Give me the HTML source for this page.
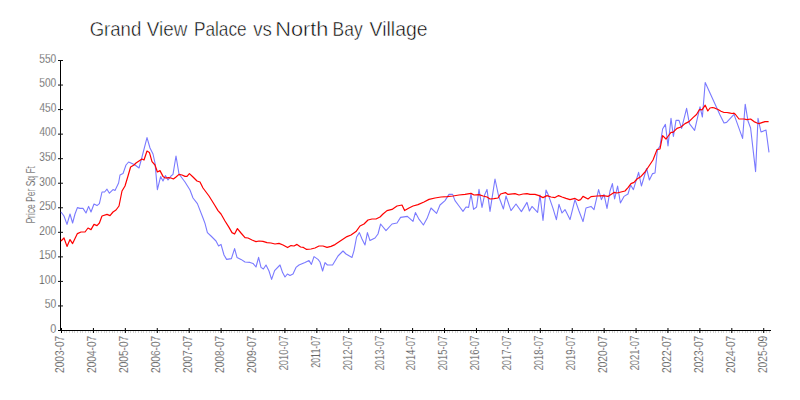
<!DOCTYPE html><html><head><meta charset="utf-8"><style>html,body{margin:0;padding:0;background:#fff;}svg{display:block;}text{font-family:"Liberation Sans", sans-serif;}</style></head><body>
<svg width="800" height="400" viewBox="0 0 800 400">
<rect width="800" height="400" fill="#fff"/>
<g font-size="20.6" fill="#000" stroke="#fff" stroke-width="0.5">
<text x="89.67" y="35.8" textLength="51.62" lengthAdjust="spacingAndGlyphs">Grand</text>
<text x="146.81" y="35.8" textLength="40.56" lengthAdjust="spacingAndGlyphs">View</text>
<text x="193.88" y="35.8" textLength="52.79" lengthAdjust="spacingAndGlyphs">Palace</text>
<text x="253.13" y="35.8" textLength="18.65" lengthAdjust="spacingAndGlyphs">vs</text>
<text x="275.22" y="35.8" textLength="53.21" lengthAdjust="spacingAndGlyphs">North</text>
<text x="332.57" y="35.8" textLength="30.07" lengthAdjust="spacingAndGlyphs">Bay</text>
<text x="369.60" y="35.8" textLength="57.95" lengthAdjust="spacingAndGlyphs">Village</text>
</g>
<g stroke="#d4d4d4" stroke-width="1" shape-rendering="crispEdges">
<line x1="61.5" y1="331" x2="61.5" y2="333"/>
<line x1="64.5" y1="331" x2="64.5" y2="333"/>
<line x1="66.5" y1="331" x2="66.5" y2="333"/>
<line x1="69.5" y1="331" x2="69.5" y2="333"/>
<line x1="72.5" y1="331" x2="72.5" y2="333"/>
<line x1="74.5" y1="331" x2="74.5" y2="333"/>
<line x1="77.5" y1="331" x2="77.5" y2="333"/>
<line x1="80.5" y1="331" x2="80.5" y2="333"/>
<line x1="82.5" y1="331" x2="82.5" y2="333"/>
<line x1="85.5" y1="331" x2="85.5" y2="333"/>
<line x1="88.5" y1="331" x2="88.5" y2="333"/>
<line x1="90.5" y1="331" x2="90.5" y2="333"/>
<line x1="93.5" y1="331" x2="93.5" y2="333"/>
<line x1="96.5" y1="331" x2="96.5" y2="333"/>
<line x1="98.5" y1="331" x2="98.5" y2="333"/>
<line x1="101.5" y1="331" x2="101.5" y2="333"/>
<line x1="104.5" y1="331" x2="104.5" y2="333"/>
<line x1="106.5" y1="331" x2="106.5" y2="333"/>
<line x1="109.5" y1="331" x2="109.5" y2="333"/>
<line x1="112.5" y1="331" x2="112.5" y2="333"/>
<line x1="114.5" y1="331" x2="114.5" y2="333"/>
<line x1="117.5" y1="331" x2="117.5" y2="333"/>
<line x1="120.5" y1="331" x2="120.5" y2="333"/>
<line x1="122.5" y1="331" x2="122.5" y2="333"/>
<line x1="125.5" y1="331" x2="125.5" y2="333"/>
<line x1="128.5" y1="331" x2="128.5" y2="333"/>
<line x1="130.5" y1="331" x2="130.5" y2="333"/>
<line x1="133.5" y1="331" x2="133.5" y2="333"/>
<line x1="135.5" y1="331" x2="135.5" y2="333"/>
<line x1="138.5" y1="331" x2="138.5" y2="333"/>
<line x1="141.5" y1="331" x2="141.5" y2="333"/>
<line x1="143.5" y1="331" x2="143.5" y2="333"/>
<line x1="146.5" y1="331" x2="146.5" y2="333"/>
<line x1="149.5" y1="331" x2="149.5" y2="333"/>
<line x1="151.5" y1="331" x2="151.5" y2="333"/>
<line x1="154.5" y1="331" x2="154.5" y2="333"/>
<line x1="157.5" y1="331" x2="157.5" y2="333"/>
<line x1="159.5" y1="331" x2="159.5" y2="333"/>
<line x1="162.5" y1="331" x2="162.5" y2="333"/>
<line x1="165.5" y1="331" x2="165.5" y2="333"/>
<line x1="167.5" y1="331" x2="167.5" y2="333"/>
<line x1="170.5" y1="331" x2="170.5" y2="333"/>
<line x1="173.5" y1="331" x2="173.5" y2="333"/>
<line x1="175.5" y1="331" x2="175.5" y2="333"/>
<line x1="178.5" y1="331" x2="178.5" y2="333"/>
<line x1="181.5" y1="331" x2="181.5" y2="333"/>
<line x1="183.5" y1="331" x2="183.5" y2="333"/>
<line x1="186.5" y1="331" x2="186.5" y2="333"/>
<line x1="189.5" y1="331" x2="189.5" y2="333"/>
<line x1="191.5" y1="331" x2="191.5" y2="333"/>
<line x1="194.5" y1="331" x2="194.5" y2="333"/>
<line x1="197.5" y1="331" x2="197.5" y2="333"/>
<line x1="199.5" y1="331" x2="199.5" y2="333"/>
<line x1="202.5" y1="331" x2="202.5" y2="333"/>
<line x1="205.5" y1="331" x2="205.5" y2="333"/>
<line x1="207.5" y1="331" x2="207.5" y2="333"/>
<line x1="210.5" y1="331" x2="210.5" y2="333"/>
<line x1="213.5" y1="331" x2="213.5" y2="333"/>
<line x1="215.5" y1="331" x2="215.5" y2="333"/>
<line x1="218.5" y1="331" x2="218.5" y2="333"/>
<line x1="221.5" y1="331" x2="221.5" y2="333"/>
<line x1="223.5" y1="331" x2="223.5" y2="333"/>
<line x1="226.5" y1="331" x2="226.5" y2="333"/>
<line x1="229.5" y1="331" x2="229.5" y2="333"/>
<line x1="231.5" y1="331" x2="231.5" y2="333"/>
<line x1="234.5" y1="331" x2="234.5" y2="333"/>
<line x1="237.5" y1="331" x2="237.5" y2="333"/>
<line x1="239.5" y1="331" x2="239.5" y2="333"/>
<line x1="242.5" y1="331" x2="242.5" y2="333"/>
<line x1="245.5" y1="331" x2="245.5" y2="333"/>
<line x1="247.5" y1="331" x2="247.5" y2="333"/>
<line x1="250.5" y1="331" x2="250.5" y2="333"/>
<line x1="253.5" y1="331" x2="253.5" y2="333"/>
<line x1="255.5" y1="331" x2="255.5" y2="333"/>
<line x1="258.5" y1="331" x2="258.5" y2="333"/>
<line x1="260.5" y1="331" x2="260.5" y2="333"/>
<line x1="263.5" y1="331" x2="263.5" y2="333"/>
<line x1="266.5" y1="331" x2="266.5" y2="333"/>
<line x1="268.5" y1="331" x2="268.5" y2="333"/>
<line x1="271.5" y1="331" x2="271.5" y2="333"/>
<line x1="274.5" y1="331" x2="274.5" y2="333"/>
<line x1="276.5" y1="331" x2="276.5" y2="333"/>
<line x1="279.5" y1="331" x2="279.5" y2="333"/>
<line x1="282.5" y1="331" x2="282.5" y2="333"/>
<line x1="284.5" y1="331" x2="284.5" y2="333"/>
<line x1="287.5" y1="331" x2="287.5" y2="333"/>
<line x1="290.5" y1="331" x2="290.5" y2="333"/>
<line x1="292.5" y1="331" x2="292.5" y2="333"/>
<line x1="295.5" y1="331" x2="295.5" y2="333"/>
<line x1="298.5" y1="331" x2="298.5" y2="333"/>
<line x1="300.5" y1="331" x2="300.5" y2="333"/>
<line x1="303.5" y1="331" x2="303.5" y2="333"/>
<line x1="306.5" y1="331" x2="306.5" y2="333"/>
<line x1="308.5" y1="331" x2="308.5" y2="333"/>
<line x1="311.5" y1="331" x2="311.5" y2="333"/>
<line x1="314.5" y1="331" x2="314.5" y2="333"/>
<line x1="316.5" y1="331" x2="316.5" y2="333"/>
<line x1="319.5" y1="331" x2="319.5" y2="333"/>
<line x1="322.5" y1="331" x2="322.5" y2="333"/>
<line x1="324.5" y1="331" x2="324.5" y2="333"/>
<line x1="327.5" y1="331" x2="327.5" y2="333"/>
<line x1="330.5" y1="331" x2="330.5" y2="333"/>
<line x1="332.5" y1="331" x2="332.5" y2="333"/>
<line x1="335.5" y1="331" x2="335.5" y2="333"/>
<line x1="338.5" y1="331" x2="338.5" y2="333"/>
<line x1="340.5" y1="331" x2="340.5" y2="333"/>
<line x1="343.5" y1="331" x2="343.5" y2="333"/>
<line x1="346.5" y1="331" x2="346.5" y2="333"/>
<line x1="348.5" y1="331" x2="348.5" y2="333"/>
<line x1="351.5" y1="331" x2="351.5" y2="333"/>
<line x1="354.5" y1="331" x2="354.5" y2="333"/>
<line x1="356.5" y1="331" x2="356.5" y2="333"/>
<line x1="359.5" y1="331" x2="359.5" y2="333"/>
<line x1="362.5" y1="331" x2="362.5" y2="333"/>
<line x1="364.5" y1="331" x2="364.5" y2="333"/>
<line x1="367.5" y1="331" x2="367.5" y2="333"/>
<line x1="370.5" y1="331" x2="370.5" y2="333"/>
<line x1="372.5" y1="331" x2="372.5" y2="333"/>
<line x1="375.5" y1="331" x2="375.5" y2="333"/>
<line x1="378.5" y1="331" x2="378.5" y2="333"/>
<line x1="380.5" y1="331" x2="380.5" y2="333"/>
<line x1="383.5" y1="331" x2="383.5" y2="333"/>
<line x1="386.5" y1="331" x2="386.5" y2="333"/>
<line x1="388.5" y1="331" x2="388.5" y2="333"/>
<line x1="391.5" y1="331" x2="391.5" y2="333"/>
<line x1="394.5" y1="331" x2="394.5" y2="333"/>
<line x1="396.5" y1="331" x2="396.5" y2="333"/>
<line x1="399.5" y1="331" x2="399.5" y2="333"/>
<line x1="401.5" y1="331" x2="401.5" y2="333"/>
<line x1="404.5" y1="331" x2="404.5" y2="333"/>
<line x1="407.5" y1="331" x2="407.5" y2="333"/>
<line x1="409.5" y1="331" x2="409.5" y2="333"/>
<line x1="412.5" y1="331" x2="412.5" y2="333"/>
<line x1="415.5" y1="331" x2="415.5" y2="333"/>
<line x1="417.5" y1="331" x2="417.5" y2="333"/>
<line x1="420.5" y1="331" x2="420.5" y2="333"/>
<line x1="423.5" y1="331" x2="423.5" y2="333"/>
<line x1="425.5" y1="331" x2="425.5" y2="333"/>
<line x1="428.5" y1="331" x2="428.5" y2="333"/>
<line x1="431.5" y1="331" x2="431.5" y2="333"/>
<line x1="433.5" y1="331" x2="433.5" y2="333"/>
<line x1="436.5" y1="331" x2="436.5" y2="333"/>
<line x1="439.5" y1="331" x2="439.5" y2="333"/>
<line x1="441.5" y1="331" x2="441.5" y2="333"/>
<line x1="444.5" y1="331" x2="444.5" y2="333"/>
<line x1="447.5" y1="331" x2="447.5" y2="333"/>
<line x1="449.5" y1="331" x2="449.5" y2="333"/>
<line x1="452.5" y1="331" x2="452.5" y2="333"/>
<line x1="455.5" y1="331" x2="455.5" y2="333"/>
<line x1="457.5" y1="331" x2="457.5" y2="333"/>
<line x1="460.5" y1="331" x2="460.5" y2="333"/>
<line x1="463.5" y1="331" x2="463.5" y2="333"/>
<line x1="465.5" y1="331" x2="465.5" y2="333"/>
<line x1="468.5" y1="331" x2="468.5" y2="333"/>
<line x1="471.5" y1="331" x2="471.5" y2="333"/>
<line x1="473.5" y1="331" x2="473.5" y2="333"/>
<line x1="476.5" y1="331" x2="476.5" y2="333"/>
<line x1="479.5" y1="331" x2="479.5" y2="333"/>
<line x1="481.5" y1="331" x2="481.5" y2="333"/>
<line x1="484.5" y1="331" x2="484.5" y2="333"/>
<line x1="487.5" y1="331" x2="487.5" y2="333"/>
<line x1="489.5" y1="331" x2="489.5" y2="333"/>
<line x1="492.5" y1="331" x2="492.5" y2="333"/>
<line x1="495.5" y1="331" x2="495.5" y2="333"/>
<line x1="497.5" y1="331" x2="497.5" y2="333"/>
<line x1="500.5" y1="331" x2="500.5" y2="333"/>
<line x1="503.5" y1="331" x2="503.5" y2="333"/>
<line x1="505.5" y1="331" x2="505.5" y2="333"/>
<line x1="508.5" y1="331" x2="508.5" y2="333"/>
<line x1="511.5" y1="331" x2="511.5" y2="333"/>
<line x1="513.5" y1="331" x2="513.5" y2="333"/>
<line x1="516.5" y1="331" x2="516.5" y2="333"/>
<line x1="519.5" y1="331" x2="519.5" y2="333"/>
<line x1="521.5" y1="331" x2="521.5" y2="333"/>
<line x1="524.5" y1="331" x2="524.5" y2="333"/>
<line x1="526.5" y1="331" x2="526.5" y2="333"/>
<line x1="529.5" y1="331" x2="529.5" y2="333"/>
<line x1="532.5" y1="331" x2="532.5" y2="333"/>
<line x1="534.5" y1="331" x2="534.5" y2="333"/>
<line x1="537.5" y1="331" x2="537.5" y2="333"/>
<line x1="540.5" y1="331" x2="540.5" y2="333"/>
<line x1="542.5" y1="331" x2="542.5" y2="333"/>
<line x1="545.5" y1="331" x2="545.5" y2="333"/>
<line x1="548.5" y1="331" x2="548.5" y2="333"/>
<line x1="550.5" y1="331" x2="550.5" y2="333"/>
<line x1="553.5" y1="331" x2="553.5" y2="333"/>
<line x1="556.5" y1="331" x2="556.5" y2="333"/>
<line x1="558.5" y1="331" x2="558.5" y2="333"/>
<line x1="561.5" y1="331" x2="561.5" y2="333"/>
<line x1="564.5" y1="331" x2="564.5" y2="333"/>
<line x1="566.5" y1="331" x2="566.5" y2="333"/>
<line x1="569.5" y1="331" x2="569.5" y2="333"/>
<line x1="572.5" y1="331" x2="572.5" y2="333"/>
<line x1="574.5" y1="331" x2="574.5" y2="333"/>
<line x1="577.5" y1="331" x2="577.5" y2="333"/>
<line x1="580.5" y1="331" x2="580.5" y2="333"/>
<line x1="582.5" y1="331" x2="582.5" y2="333"/>
<line x1="585.5" y1="331" x2="585.5" y2="333"/>
<line x1="588.5" y1="331" x2="588.5" y2="333"/>
<line x1="590.5" y1="331" x2="590.5" y2="333"/>
<line x1="593.5" y1="331" x2="593.5" y2="333"/>
<line x1="596.5" y1="331" x2="596.5" y2="333"/>
<line x1="598.5" y1="331" x2="598.5" y2="333"/>
<line x1="601.5" y1="331" x2="601.5" y2="333"/>
<line x1="604.5" y1="331" x2="604.5" y2="333"/>
<line x1="606.5" y1="331" x2="606.5" y2="333"/>
<line x1="609.5" y1="331" x2="609.5" y2="333"/>
<line x1="612.5" y1="331" x2="612.5" y2="333"/>
<line x1="614.5" y1="331" x2="614.5" y2="333"/>
<line x1="617.5" y1="331" x2="617.5" y2="333"/>
<line x1="620.5" y1="331" x2="620.5" y2="333"/>
<line x1="622.5" y1="331" x2="622.5" y2="333"/>
<line x1="625.5" y1="331" x2="625.5" y2="333"/>
<line x1="628.5" y1="331" x2="628.5" y2="333"/>
<line x1="630.5" y1="331" x2="630.5" y2="333"/>
<line x1="633.5" y1="331" x2="633.5" y2="333"/>
<line x1="636.5" y1="331" x2="636.5" y2="333"/>
<line x1="638.5" y1="331" x2="638.5" y2="333"/>
<line x1="641.5" y1="331" x2="641.5" y2="333"/>
<line x1="644.5" y1="331" x2="644.5" y2="333"/>
<line x1="646.5" y1="331" x2="646.5" y2="333"/>
<line x1="649.5" y1="331" x2="649.5" y2="333"/>
<line x1="652.5" y1="331" x2="652.5" y2="333"/>
<line x1="654.5" y1="331" x2="654.5" y2="333"/>
<line x1="657.5" y1="331" x2="657.5" y2="333"/>
<line x1="660.5" y1="331" x2="660.5" y2="333"/>
<line x1="662.5" y1="331" x2="662.5" y2="333"/>
<line x1="665.5" y1="331" x2="665.5" y2="333"/>
<line x1="667.5" y1="331" x2="667.5" y2="333"/>
<line x1="670.5" y1="331" x2="670.5" y2="333"/>
<line x1="673.5" y1="331" x2="673.5" y2="333"/>
<line x1="675.5" y1="331" x2="675.5" y2="333"/>
<line x1="678.5" y1="331" x2="678.5" y2="333"/>
<line x1="681.5" y1="331" x2="681.5" y2="333"/>
<line x1="683.5" y1="331" x2="683.5" y2="333"/>
<line x1="686.5" y1="331" x2="686.5" y2="333"/>
<line x1="689.5" y1="331" x2="689.5" y2="333"/>
<line x1="691.5" y1="331" x2="691.5" y2="333"/>
<line x1="694.5" y1="331" x2="694.5" y2="333"/>
<line x1="697.5" y1="331" x2="697.5" y2="333"/>
<line x1="699.5" y1="331" x2="699.5" y2="333"/>
<line x1="702.5" y1="331" x2="702.5" y2="333"/>
<line x1="705.5" y1="331" x2="705.5" y2="333"/>
<line x1="707.5" y1="331" x2="707.5" y2="333"/>
<line x1="710.5" y1="331" x2="710.5" y2="333"/>
<line x1="713.5" y1="331" x2="713.5" y2="333"/>
<line x1="715.5" y1="331" x2="715.5" y2="333"/>
<line x1="718.5" y1="331" x2="718.5" y2="333"/>
<line x1="721.5" y1="331" x2="721.5" y2="333"/>
<line x1="723.5" y1="331" x2="723.5" y2="333"/>
<line x1="726.5" y1="331" x2="726.5" y2="333"/>
<line x1="729.5" y1="331" x2="729.5" y2="333"/>
<line x1="731.5" y1="331" x2="731.5" y2="333"/>
<line x1="734.5" y1="331" x2="734.5" y2="333"/>
<line x1="737.5" y1="331" x2="737.5" y2="333"/>
<line x1="739.5" y1="331" x2="739.5" y2="333"/>
<line x1="742.5" y1="331" x2="742.5" y2="333"/>
<line x1="745.5" y1="331" x2="745.5" y2="333"/>
<line x1="747.5" y1="331" x2="747.5" y2="333"/>
<line x1="750.5" y1="331" x2="750.5" y2="333"/>
<line x1="753.5" y1="331" x2="753.5" y2="333"/>
<line x1="755.5" y1="331" x2="755.5" y2="333"/>
<line x1="758.5" y1="331" x2="758.5" y2="333"/>
<line x1="761.5" y1="331" x2="761.5" y2="333"/>
<line x1="763.5" y1="331" x2="763.5" y2="333"/>
<line x1="766.5" y1="331" x2="766.5" y2="333"/>
<line x1="769.5" y1="331" x2="769.5" y2="333"/>
</g>
<g stroke="#000" stroke-width="1" shape-rendering="crispEdges">
<line x1="60.5" y1="60" x2="60.5" y2="331"/>
<line x1="60" y1="330.5" x2="771" y2="330.5"/>
</g>
<g stroke="#000" stroke-width="1">
<line x1="61.50" y1="328" x2="61.50" y2="333"/>
<line x1="93.42" y1="328" x2="93.42" y2="333"/>
<line x1="125.34" y1="328" x2="125.34" y2="333"/>
<line x1="157.26" y1="328" x2="157.26" y2="333"/>
<line x1="189.18" y1="328" x2="189.18" y2="333"/>
<line x1="221.10" y1="328" x2="221.10" y2="333"/>
<line x1="253.02" y1="328" x2="253.02" y2="333"/>
<line x1="284.94" y1="328" x2="284.94" y2="333"/>
<line x1="316.86" y1="328" x2="316.86" y2="333"/>
<line x1="348.78" y1="328" x2="348.78" y2="333"/>
<line x1="380.70" y1="328" x2="380.70" y2="333"/>
<line x1="412.62" y1="328" x2="412.62" y2="333"/>
<line x1="444.54" y1="328" x2="444.54" y2="333"/>
<line x1="476.46" y1="328" x2="476.46" y2="333"/>
<line x1="508.38" y1="328" x2="508.38" y2="333"/>
<line x1="540.30" y1="328" x2="540.30" y2="333"/>
<line x1="572.22" y1="328" x2="572.22" y2="333"/>
<line x1="604.14" y1="328" x2="604.14" y2="333"/>
<line x1="636.06" y1="328" x2="636.06" y2="333"/>
<line x1="667.98" y1="328" x2="667.98" y2="333"/>
<line x1="699.90" y1="328" x2="699.90" y2="333"/>
<line x1="731.82" y1="328" x2="731.82" y2="333"/>
<line x1="763.74" y1="328" x2="763.74" y2="333"/>
</g>
<g stroke="#111" stroke-width="1">
<line x1="58" y1="305.95" x2="63" y2="305.95"/>
<line x1="58" y1="281.41" x2="63" y2="281.41"/>
<line x1="58" y1="256.87" x2="63" y2="256.87"/>
<line x1="58" y1="232.32" x2="63" y2="232.32"/>
<line x1="58" y1="207.78" x2="63" y2="207.78"/>
<line x1="58" y1="183.23" x2="63" y2="183.23"/>
<line x1="58" y1="158.69" x2="63" y2="158.69"/>
<line x1="58" y1="134.14" x2="63" y2="134.14"/>
<line x1="58" y1="109.59" x2="63" y2="109.59"/>
<line x1="58" y1="85.05" x2="63" y2="85.05"/>
<line x1="58" y1="60.50" x2="63" y2="60.50"/>
</g>
<line x1="58" y1="330.5" x2="60" y2="330.5" stroke="#000" shape-rendering="crispEdges"/>
<g font-size="12" fill="#444" stroke="#fff" stroke-width="0.25">
<text x="50.28" y="332.80" textLength="6.05" lengthAdjust="spacingAndGlyphs">0</text>
<text x="44.79" y="308.25" textLength="11.52" lengthAdjust="spacingAndGlyphs">50</text>
<text x="38.91" y="283.71" textLength="17.40" lengthAdjust="spacingAndGlyphs">100</text>
<text x="38.91" y="259.17" textLength="17.40" lengthAdjust="spacingAndGlyphs">150</text>
<text x="39.19" y="234.62" textLength="17.12" lengthAdjust="spacingAndGlyphs">200</text>
<text x="39.19" y="210.08" textLength="17.12" lengthAdjust="spacingAndGlyphs">250</text>
<text x="39.31" y="185.53" textLength="16.99" lengthAdjust="spacingAndGlyphs">300</text>
<text x="39.31" y="160.99" textLength="16.99" lengthAdjust="spacingAndGlyphs">350</text>
<text x="39.47" y="136.44" textLength="16.83" lengthAdjust="spacingAndGlyphs">400</text>
<text x="39.47" y="111.89" textLength="16.83" lengthAdjust="spacingAndGlyphs">450</text>
<text x="39.29" y="87.35" textLength="17.01" lengthAdjust="spacingAndGlyphs">500</text>
<text x="39.29" y="62.80" textLength="17.01" lengthAdjust="spacingAndGlyphs">550</text>
</g>
<g font-size="12" fill="#444" stroke="#fff" stroke-width="0.25">
<text transform="translate(64.30,373.01) rotate(-90)" textLength="37.21" lengthAdjust="spacingAndGlyphs">2003-07</text>
<text transform="translate(96.22,373.01) rotate(-90)" textLength="37.21" lengthAdjust="spacingAndGlyphs">2004-07</text>
<text transform="translate(128.14,373.01) rotate(-90)" textLength="37.21" lengthAdjust="spacingAndGlyphs">2005-07</text>
<text transform="translate(160.06,373.01) rotate(-90)" textLength="37.21" lengthAdjust="spacingAndGlyphs">2006-07</text>
<text transform="translate(191.98,373.01) rotate(-90)" textLength="37.21" lengthAdjust="spacingAndGlyphs">2007-07</text>
<text transform="translate(223.90,373.01) rotate(-90)" textLength="37.21" lengthAdjust="spacingAndGlyphs">2008-07</text>
<text transform="translate(255.82,373.01) rotate(-90)" textLength="37.21" lengthAdjust="spacingAndGlyphs">2009-07</text>
<text transform="translate(287.74,370.37) rotate(-90)" textLength="34.54" lengthAdjust="spacingAndGlyphs">2010-07</text>
<text transform="translate(319.66,367.74) rotate(-90)" textLength="31.88" lengthAdjust="spacingAndGlyphs">2011-07</text>
<text transform="translate(351.58,370.37) rotate(-90)" textLength="34.54" lengthAdjust="spacingAndGlyphs">2012-07</text>
<text transform="translate(383.50,370.37) rotate(-90)" textLength="34.54" lengthAdjust="spacingAndGlyphs">2013-07</text>
<text transform="translate(415.42,370.37) rotate(-90)" textLength="34.54" lengthAdjust="spacingAndGlyphs">2014-07</text>
<text transform="translate(447.34,370.37) rotate(-90)" textLength="34.54" lengthAdjust="spacingAndGlyphs">2015-07</text>
<text transform="translate(479.26,370.37) rotate(-90)" textLength="34.54" lengthAdjust="spacingAndGlyphs">2016-07</text>
<text transform="translate(511.18,370.37) rotate(-90)" textLength="34.54" lengthAdjust="spacingAndGlyphs">2017-07</text>
<text transform="translate(543.10,370.37) rotate(-90)" textLength="34.54" lengthAdjust="spacingAndGlyphs">2018-07</text>
<text transform="translate(575.02,370.37) rotate(-90)" textLength="34.54" lengthAdjust="spacingAndGlyphs">2019-07</text>
<text transform="translate(606.94,373.01) rotate(-90)" textLength="37.21" lengthAdjust="spacingAndGlyphs">2020-07</text>
<text transform="translate(638.86,370.37) rotate(-90)" textLength="34.54" lengthAdjust="spacingAndGlyphs">2021-07</text>
<text transform="translate(670.78,373.01) rotate(-90)" textLength="37.21" lengthAdjust="spacingAndGlyphs">2022-07</text>
<text transform="translate(702.70,373.01) rotate(-90)" textLength="37.21" lengthAdjust="spacingAndGlyphs">2023-07</text>
<text transform="translate(734.62,373.01) rotate(-90)" textLength="37.21" lengthAdjust="spacingAndGlyphs">2024-07</text>
<text transform="translate(766.54,373.01) rotate(-90)" textLength="37.18" lengthAdjust="spacingAndGlyphs">2025-09</text>
</g>
<text transform="translate(35.4,223.60) rotate(-90)" font-size="12" fill="#444" stroke="#fff" stroke-width="0.25" textLength="57.55" lengthAdjust="spacingAndGlyphs">Price Per Sq Ft</text>
<polyline fill="none" stroke="#7a7aff" stroke-width="1.1" stroke-linejoin="round" points="61,212 64,216 67,224.4 70,214 72.6,223 75,214 77.4,207.6 80,208.4 83,208.4 86,213 88.6,206.4 91,212 94,204 97,205.6 99.4,203.6 102,192 104.6,192 107,189.2 109.4,193.2 113,189.6 115,190.4 118.6,183 120,175 123,173.6 126,165 128.6,162 132,163.6 135,165 139,168 142,157 147,137.6 150,148 153,154 155,163 157.4,189.6 160.6,176.6 163,181 165.4,175.6 168,180 171,176 173,174.4 176,156 179,174 185,182 190,190 193,198 197.4,203.6 203,218 205,223.4 207.4,232.6 211,236 216,241 218.6,246 221,244.4 224,255 226.6,259.4 231.4,258.6 234.6,248.6 237,257.4 241,259.4 245,262 250,262.4 253,263.4 256,267 258.6,257.4 261,267.4 263.4,269 266,265 269,271 271.6,279.4 274.6,270.6 280,265 282.6,272.6 285,277 287.4,274 290,275.4 293,274 296,267.4 299,265 305,262.6 309,260.6 311.4,264.4 314,256.6 318,259.4 320,262 322.6,271 325,262.6 327.4,265 332.6,265 338,256 343,251 346,254 352,257.4 354,250.6 356.6,237 359.4,232.6 362,239 365,245 367.4,232.6 370,240.6 375,238 378,234 380.6,224 386,230.6 392,224 397,223 400.6,217.4 407.4,216.4 413,221.4 415.4,212.6 418.6,218.6 423.4,225 427,218.6 431,208 436.6,213.4 440,205 445,200.6 449,194.4 452.6,194.4 455,200.6 459,206 463,211.4 466,207 468.6,207.4 471,194 473.6,209.4 476.6,207 479,189.4 482,207.4 484.6,195 487,189.4 490,211.4 495,179 498.6,196 503.4,209 506,196 511,210.6 516,204 521.4,211.6 527,202.4 529.4,211 532,206.4 537.6,212.4 540,195 543,220.4 546,190 548.6,195.6 553,208.4 556.4,219.6 559,204.4 562,213 565,209.6 570,219.6 575,199.6 579,211 583,221.6 586,208 591,206.4 594,209.6 598.6,189.6 601.4,199.6 604,194.4 607,208.4 610,191 612.4,183.6 614.6,199 617.6,186 620.4,203 624,196.4 628,194 630.6,185 633.4,189.6 638.6,172.4 641.4,186 646.6,168.5 649.4,180 652.6,173.6 655,173 657.4,150 660,146 662.6,129 665.4,124.4 668,146 671,118.4 673.4,136.4 676,120.4 679,120.4 681.6,128.4 686.6,108.4 689.4,123.6 694.6,130.4 700,106.8 702.4,117 705.2,82.5 720,115 724,123 726.6,122.4 734,114.4 742.6,138.4 745.2,104.2 748,121 750.6,128 755.6,171.6 758,118.4 761,132 766,130 769,152.4"/>
<polyline fill="none" stroke="#f00" stroke-width="1.2" stroke-linejoin="round" points="61,241 64,238 67,246.4 70,239.6 72.6,243.6 77.4,233.6 81,232 85,232 88,228 91,229.6 94,224.4 97,225.6 99.4,223 102,216 107,214.4 110,215.6 113,212 116,210 119,206 122,191 125,186 128,176 130.6,167 134,165 136,163 139,161 142,159 144,160 147,151 149.4,152.4 152,161.6 155,165 157.4,172 160,170.6 163,176.4 165.4,178 168.6,177.6 171,178 173.4,179 176,177 179,174.4 182,175 185,176.4 187,176.4 189.4,173.6 193,177 197,181 200,182 203,188 209,196 214.6,205 218,210.6 221,214 225,221 229,227.4 232,232.6 234.6,234 237.4,228.6 241,233 245,237.6 248,238 252,240 256,241.6 259,241 263,241.4 267,242.6 271,243 275,244 279,243.4 283,245 287.6,247.6 291,245.6 294,246 297,244.4 300.6,247 303.4,247.4 306.6,249.4 311,249 315,248 319,246 323,246 327,247.4 331,246.4 335,244.6 341,240.6 347,236.6 351,235 356,231.6 360,226 364,224 368,220 372,219 376,219 380,217 383,214 387,210.6 392,209.4 397,206 402,205 404.6,210.6 409,208 413,206 418,204.6 424,202 429,199.4 435,198 441,197 447,196.6 453,196 459,195 465,194.4 471,193.4 474,195 479,194.6 483,196 487,197 490,199 494,198.6 498,198 500.6,194 505.4,192.6 508,194.4 515,193.6 519,195 523,194 527,193.6 530,194.4 535,194.4 539,195.6 543,197.6 547,195.6 551,197 555,197.6 558.6,195.6 562,197 566,198.4 570,199.6 575,198.4 578.6,200.4 580.6,199.6 583,196.4 588,199 591,196.6 597,196 603,195.6 608,196.4 611,194.4 614,192.4 617,193 621,192 625,191 628,187.6 631,183.6 634,182.4 637,179 641,176.4 645,172 649,166 653,160 657,149.6 660,149 662.6,135.6 666,139 669,135 671,132.4 673,132.4 677,128.4 681,127 685,123.6 689,121.6 693,117.6 696.5,114.5 699.5,109.5 702,109.8 705.2,105.2 707.8,111 710,108 712.5,107.5 715,108.2 718,109.5 721,111.2 724,112.5 727,112.5 729,112.8 732,113.5 734,113.2 735.5,114.5 739,119 744,119 747,119.6 750.6,119 754,121.6 757,123 759,123.6 762.6,122.4 765,121.6 768.6,121.6"/>
</svg></body></html>
